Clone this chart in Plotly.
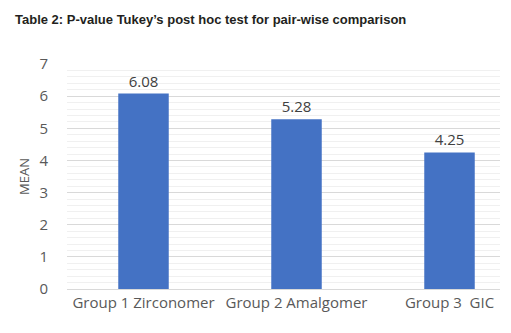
import plotly.graph_objects as go

categories = ["Group 1 Zirconomer", "Group 2 Amalgomer", "Group 3  GIC"]
means = [6.08, 5.28, 4.25]
labels = ["6.08", "5.28", "4.25"]

fig = go.Figure(go.Bar(
    x=categories, y=means, text=labels, textposition="outside",
    textfont=dict(family="Open Sans", size=15, color="#404040"),
    marker=dict(color="#4472C4", line=dict(width=0)),
    width=0.33, cliponaxis=False,
))

fig.update_layout(
    width=511, height=333,
    margin=dict(l=67, r=11, t=64, b=44, autoexpand=False),
    paper_bgcolor="white", plot_bgcolor="white",
    showlegend=False,
    title=dict(text="<b>Table 2: P-value Tukey’s post hoc test for pair-wise comparison</b>",
               x=15/511, xanchor="left", y=1-19/333, yanchor="middle",
               font=dict(family="Liberation Sans", size=13, color="#231F20")),
    font=dict(family="Open Sans", color="#595959"),
)
fig.update_xaxes(
    type="category", range=[-0.5, 2.33], automargin=False,
    showgrid=False, showline=True, linecolor="#D9D9D9", linewidth=1,
    ticks="", tickfont=dict(size=15, color="#595959"),
)
fig.update_yaxes(
    range=[0, 7], dtick=1, showgrid=True, gridcolor="#D9D9D9", gridwidth=1,
    zeroline=False, ticks="", ticklabelstandoff=18, automargin=False,
    tickfont=dict(size=15, color="#595959"),
    minor=dict(dtick=0.2, showgrid=True, gridcolor="#F0F0F0", gridwidth=1),
    title=dict(text="MEAN", font=dict(size=13, color="#595959"), standoff=6),
)

fig.write_html("out.html", config={"displayModeBar": False},
               post_script="document.body.style.margin='0';")
